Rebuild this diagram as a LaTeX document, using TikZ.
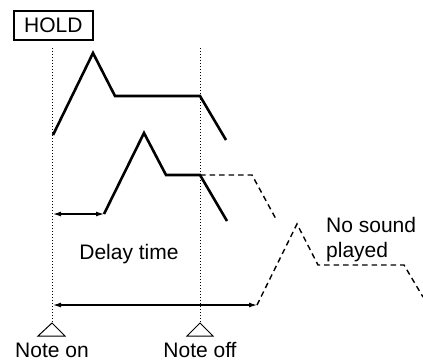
\documentclass[tikz,border=0pt]{standalone}
\usepackage{fontspec}
\setmainfont{Liberation Sans}
\usetikzlibrary{arrows.meta}
\begin{document}
\begin{tikzpicture}[x=1pt,y=-1pt,
  env/.style={line width=2.6pt,line join=miter},
  ghost/.style={line width=1.4pt,dash pattern=on 5.5pt off 4pt},
  guide/.style={line width=1pt,dash pattern=on 1.3pt off 1.7pt},
  dim/.style={line width=1.2pt,{Latex[length=8pt,width=5pt]}-{Latex[length=8pt,width=5pt]}},
  lbl/.style={font=\fontsize{21}{25}\selectfont,inner sep=0pt},
  tri/.style={draw,line width=1pt,fill=white}]
\useasboundingbox (0,0) rectangle (423,362);
% HOLD box
\node[draw,line width=1.8pt,lbl,minimum width=79pt,minimum height=29pt,anchor=north west] (hold) at (13,10) {HOLD};
% guide lines
\coordinate (g1t) at (52,48); \coordinate (g1b) at (52,323);
\coordinate (g2t) at (200,48); \coordinate (g2b) at (200,323);
\draw[guide] (g1t) -- (g1b);
\draw[guide] (g2t) -- (g2b);
% triangles
\coordinate (t1a) at (52,323); \coordinate (t1l) at (38,336); \coordinate (t1r) at (65,336);
\coordinate (t2a) at (200,323); \coordinate (t2l) at (187,336); \coordinate (t2r) at (213,336);
\draw[tri] (t1a) -- (t1l) -- (t1r) -- cycle;
\draw[tri] (t2a) -- (t2l) -- (t2r) -- cycle;
% upper envelope
\coordinate (u0) at (53,135); \coordinate (u1) at (93,53); \coordinate (u2) at (115,96);
\coordinate (u3) at (200,96); \coordinate (u4) at (226,140);
\draw[env] (u0) -- (u1) -- (u2) -- (u3) -- (u4);
% lower envelope
\coordinate (l0) at (104,214); \coordinate (l1) at (144,133); \coordinate (l2) at (166,175);
\coordinate (l3) at (200,175); \coordinate (l4) at (227,221);
\draw[env] (l0) -- (l1) -- (l2) -- (l3) -- (l4);
% dashed continuation
\coordinate (d1) at (252,175); \coordinate (d2) at (276,219);
\draw[ghost] (l3) -- (d1) -- (d2);
\coordinate (e0) at (257,305); \coordinate (e1) at (297,224); \coordinate (e2) at (318,265);
\coordinate (e3) at (404,265); \coordinate (e4) at (423,297);
\draw[ghost] (e0) -- (e1) -- (e2) -- (e3) -- (e4);
% dimension arrows
\coordinate (a1) at (53,214);
\draw[dim] (a1) -- (l0);
\coordinate (a2) at (53,305);
\draw[dim] (a2) -- (e0);
% labels
\node[lbl] (delay) at (129,254) {Delay time};
\node[lbl,anchor=base] (non) at (52,357) {Note on};
\node[lbl,anchor=base] (noff) at (200,357) {Note off};
\node[lbl,anchor=base west] (nos) at (326,232) {No sound};
\node[lbl,anchor=base west] (pl) at (326,257) {played};
\end{tikzpicture}
\end{document}
